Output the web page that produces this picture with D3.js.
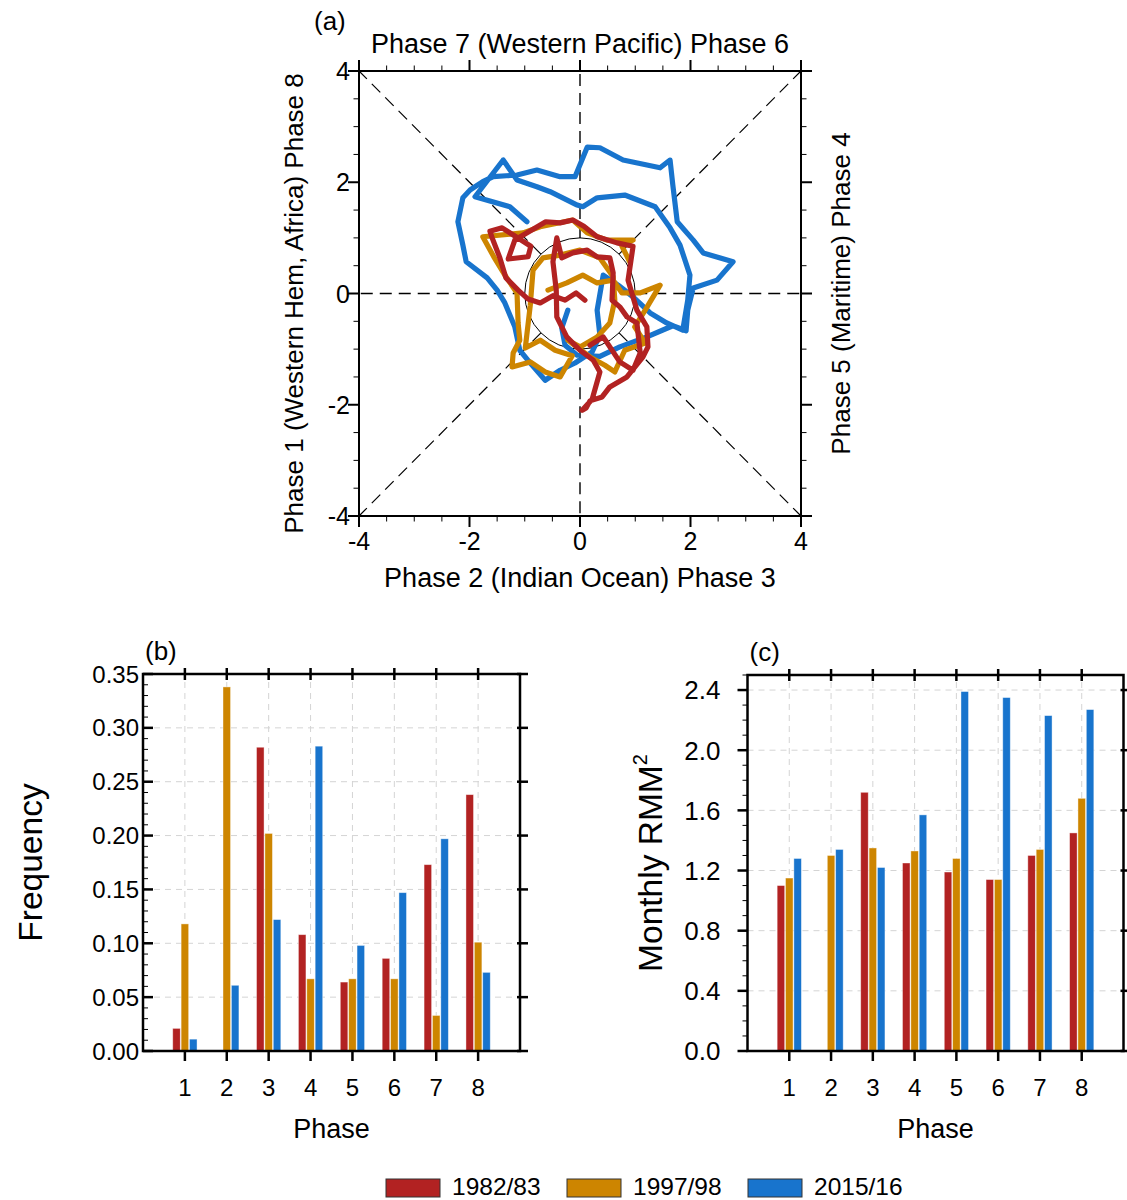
<!DOCTYPE html>
<html><head><meta charset="utf-8">
<script src="https://cdn.jsdelivr.net/npm/d3@7/dist/d3.min.js"></script>
<style>
body{margin:0;background:#fff}
text{font-family:"Liberation Sans",Arial,Helvetica,sans-serif;fill:#000}
</style>
</head><body>
<svg id="chart" width="1127" height="1200"></svg>
<script>
// ---------------- DATA ----------------
const years = ["1982/83", "1997/98", "2015/16"];
const colors = ["#B22222", "#CD8500", "#1874CD"];
const phases = [1, 2, 3, 4, 5, 6, 7, 8];

// (b) frequency of each phase
const freq1982 = [0.021, 0.000, 0.282, 0.108, 0.064, 0.086, 0.173, 0.238];
const freq1997 = [0.118, 0.338, 0.202, 0.067, 0.067, 0.067, 0.033, 0.101];
const freq2015 = [0.011, 0.061, 0.122, 0.283, 0.098, 0.147, 0.197, 0.073];
const freqTicks = [0.00, 0.05, 0.10, 0.15, 0.20, 0.25, 0.30, 0.35];

// (c) monthly RMM^2 per phase
const rmm1982 = [1.10, 0.00, 1.72, 1.25, 1.19, 1.14, 1.30, 1.45];
const rmm1997 = [1.15, 1.30, 1.35, 1.33, 1.28, 1.14, 1.34, 1.68];
const rmm2015 = [1.28, 1.34, 1.22, 1.57, 2.39, 2.35, 2.23, 2.27];
const rmmTicks = [0.0, 0.4, 0.8, 1.2, 1.6, 2.0, 2.4];

// (a) RMM1/RMM2 trajectories
const phaseTicks = [-4, -2, 0, 2, 4];
const traj1982 = [[0.09,-0.12],[-0.07,0.01],[-0.27,-0.12],[-0.49,-0.04],[-0.72,-0.17],[-0.94,-0.10],[-1.12,0.06],[-1.34,0.28],[-1.45,0.64],[-1.59,1.00],[-1.63,1.12],[-1.41,1.18],[-0.89,0.85],[-0.94,0.66],[-1.30,0.62],[-1.18,0.96],[-0.62,1.29],[-0.36,1.27],[-0.13,1.32],[0.07,1.21],[0.31,1.02],[0.67,0.91],[0.96,0.85],[0.87,0.24],[1.03,-0.30],[1.21,-0.60],[1.23,-0.96],[1.14,-1.14],[0.85,-1.50],[0.54,-1.68],[0.40,-1.86],[0.18,-1.93],[0.11,-2.06],[0.04,-2.10],[0.22,-1.90],[0.36,-1.41],[0.24,-1.20],[0.00,-1.02],[-0.24,-0.78],[-0.42,-0.42],[-0.43,0.06],[-0.49,0.57],[-0.42,1.00],[-0.33,0.64],[-0.13,0.73],[0.13,0.78],[0.31,0.66],[0.54,0.64],[0.60,0.37],[0.58,-0.12],[0.72,-0.24],[0.85,-0.42],[1.03,-0.53],[1.09,-1.07],[0.96,-1.38],[0.72,-1.23],[0.42,-0.78],[0.18,-0.93]];
const traj1997 = [[0.90,0.57],[0.76,0.85],[0.96,0.96],[0.49,0.96],[0.13,1.09],[-0.13,1.32],[-0.72,1.20],[-1.03,1.09],[-1.76,1.02],[-1.56,0.66],[-1.34,0.30],[-1.14,0.01],[-1.12,-0.53],[-1.09,-0.84],[-1.21,-1.07],[-1.23,-1.32],[-0.90,-1.23],[-0.63,-1.41],[-0.36,-1.50],[-0.14,-1.12],[-0.45,-1.02],[-0.72,-0.84],[-0.99,-0.98],[-0.90,-0.21],[-0.85,0.42],[-0.67,0.64],[-0.36,0.69],[0.00,0.78],[0.36,0.64],[0.60,0.30],[0.63,-0.12],[0.54,-0.53],[0.31,-0.78],[0.00,-0.96],[-0.22,-0.84],[0.18,-1.14],[0.45,-1.29],[0.63,-1.41],[0.81,-1.02],[1.18,-0.89],[0.99,-0.60],[1.18,-0.30],[1.45,0.15],[1.09,0.01],[0.76,0.01],[0.60,0.24],[0.31,0.19],[0.05,0.33],[-0.24,0.19],[-0.58,0.06]];
const traj2015 = [[-0.22,-0.30],[-0.33,-0.62],[-0.27,-0.93],[-0.05,-1.11],[0.36,-1.13],[0.72,-0.96],[1.21,-0.78],[1.68,-0.58],[1.92,-0.67],[1.95,-0.30],[2.05,0.10],[2.48,0.24],[2.77,0.57],[2.23,0.73],[2.05,0.96],[1.76,1.29],[1.68,1.95],[1.63,2.40],[1.45,2.26],[0.78,2.40],[0.36,2.62],[0.13,2.63],[-0.09,2.10],[-0.36,2.10],[-0.78,2.22],[-1.14,2.13],[-1.57,2.10],[-1.76,2.01],[-1.99,1.86],[-2.12,1.72],[-2.21,1.29],[-2.12,0.87],[-2.06,0.57],[-1.68,0.28],[-1.50,0.06],[-1.36,-0.17],[-1.18,-0.60],[-1.09,-1.02],[-0.90,-1.25],[-0.63,-1.56],[-0.36,-1.38],[-0.09,-1.25],[0.22,-1.05],[0.36,-0.75],[0.31,-0.30],[0.42,0.33],[0.69,0.15],[0.96,-0.06],[1.27,-0.35],[1.57,-0.53],[1.86,-0.66],[1.95,-0.12],[1.99,0.33],[1.81,0.87],[1.63,1.18],[1.36,1.56],[0.81,1.77],[0.31,1.72],[0.05,1.56],[-0.05,1.59],[-0.54,1.83],[-0.78,1.92],[-1.14,2.04],[-1.39,2.40],[-1.90,1.74],[-1.27,1.56],[-0.96,1.29]];

// ---------------- DRAW ----------------
const svg = d3.select("#chart");

// ===== Panel (a) =====
const ax = d3.scaleLinear().domain([-4, 4]).range([359, 801]);
const ay = d3.scaleLinear().domain([-4, 4]).range([516, 71]);
const ga = svg.append("g");

// dashed phase lines (outside unit circle)
const dirs = [[1,0],[-1,0],[0,1],[0,-1],[1,1],[1,-1],[-1,1],[-1,-1]];
dirs.forEach(([dx, dy]) => {
  const n = Math.hypot(dx, dy);
  const straight = dx === 0 || dy === 0;
  ga.append("line")
    .attr("x1", ax(dx / n)).attr("y1", ay(dy / n))
    .attr("x2", ax(4 * dx)).attr("y2", ay(4 * dy))
    .attr("stroke", "#000").attr("stroke-width", straight ? 1.4 : 1.2)
    .attr("stroke-dasharray", "12,7");
});
// unit circle
ga.append("ellipse")
  .attr("cx", ax(0)).attr("cy", ay(0))
  .attr("rx", ax(1) - ax(0)).attr("ry", ay(0) - ay(1))
  .attr("fill", "none").attr("stroke", "#000").attr("stroke-width", 1);

// trajectories
const line = d3.line().x(d => ax(d[0])).y(d => ay(d[1]));
[[traj2015, 2], [traj1997, 1], [traj1982, 0]].forEach(([t, i]) => {
  ga.append("path").attr("d", line(t))
    .attr("fill", "none").attr("stroke", colors[i])
    .attr("stroke-width", 5.2).attr("stroke-linejoin", "round").attr("stroke-linecap", "round");
});

// frame
ga.append("rect").attr("x", ax(-4)).attr("y", ay(4))
  .attr("width", ax(4) - ax(-4)).attr("height", ay(-4) - ay(4))
  .attr("fill", "none").attr("stroke", "#000").attr("stroke-width", 2);

// ticks (outward)
const minorA = d3.range(-4, 4.01, 0.5);
minorA.forEach(v => {
  const major = Math.abs(v % 2) < 1e-9;
  const L = major ? 11 : 5.5;
  const w = major ? 2 : 1;
  ga.append("line").attr("x1", ax(v)).attr("x2", ax(v)).attr("y1", ay(-4)).attr("y2", ay(-4) + L).attr("stroke", "#000").attr("stroke-width", w);
  ga.append("line").attr("x1", ax(v)).attr("x2", ax(v)).attr("y1", ay(4)).attr("y2", ay(4) - L).attr("stroke", "#000").attr("stroke-width", w);
  ga.append("line").attr("y1", ay(v)).attr("y2", ay(v)).attr("x1", ax(-4)).attr("x2", ax(-4) - L).attr("stroke", "#000").attr("stroke-width", w);
  ga.append("line").attr("y1", ay(v)).attr("y2", ay(v)).attr("x1", ax(4)).attr("x2", ax(4) + L).attr("stroke", "#000").attr("stroke-width", w);
});
phaseTicks.forEach(v => {
  ga.append("text").attr("x", ax(v)).attr("y", ay(-4) + 34).attr("text-anchor", "middle")
    .attr("font-size", 25).text(v);
  ga.append("text").attr("x", ax(-4) - 9).attr("y", ay(v) + 9).attr("text-anchor", "end")
    .attr("font-size", 25).text(v);
});
ga.append("text").attr("x", ax(0)).attr("y", 53).attr("text-anchor", "middle").attr("font-size", 27)
  .text("Phase 7 (Western Pacific) Phase 6");
ga.append("text").attr("x", ax(0)).attr("y", 587).attr("text-anchor", "middle").attr("font-size", 27)
  .text("Phase 2 (Indian Ocean) Phase 3");
ga.append("text").attr("transform", `translate(303,${(ay(4)+ay(-4))/2 + 10}) rotate(-90)`).attr("text-anchor", "middle").attr("font-size", 26)
  .text("Phase 1 (Western Hem, Africa) Phase 8");
ga.append("text").attr("transform", `translate(850,${(ay(4)+ay(-4))/2}) rotate(-90)`).attr("text-anchor", "middle").attr("font-size", 26)
  .text("Phase 5 (Maritime) Phase 4");
ga.append("text").attr("x", 314).attr("y", 30).attr("font-size", 26).text("(a)");

// ===== Bar panels =====
function barPanel(opts) {
  const g = svg.append("g");
  const x = d3.scaleLinear().domain([0, 9]).range([opts.left, opts.right]);
  const y = d3.scaleLinear().domain([0, opts.ymax]).range([opts.bottom, opts.top]);
  // grid
  opts.ticks.forEach(v => {
    if (v <= 0) return;
    g.append("line").attr("x1", x(0)).attr("x2", x(9)).attr("y1", y(v)).attr("y2", y(v))
      .attr("stroke", "#d4d4d4").attr("stroke-width", 1).attr("stroke-dasharray", "6,5");
  });
  phases.forEach(p => {
    g.append("line").attr("x1", x(p)).attr("x2", x(p)).attr("y1", y(0)).attr("y2", y(opts.ymax))
      .attr("stroke", "#d4d4d4").attr("stroke-width", 1).attr("stroke-dasharray", "6,5");
  });
  // bars
  const bw = x(0.18) - x(0);
  opts.series.forEach((s, i) => {
    g.selectAll(null).data(s).enter().append("rect")
      .attr("x", (d, k) => x(phases[k] + (i - 1) * 0.2) - bw / 2)
      .attr("y", d => y(d))
      .attr("width", bw)
      .attr("height", d => y(0) - y(d))
      .attr("fill", colors[i])
      .attr("stroke", "#fff").attr("stroke-opacity", 0.5).attr("stroke-width", 0.8);
  });
  // frame
  g.append("rect").attr("x", x(0)).attr("y", y(opts.ymax)).attr("width", x(9) - x(0)).attr("height", y(0) - y(opts.ymax))
    .attr("fill", "none").attr("stroke", "#000").attr("stroke-width", 2.5);
  // x ticks
  phases.forEach(p => {
    g.append("line").attr("x1", x(p)).attr("x2", x(p)).attr("y1", y(0)).attr("y2", y(0) + 10).attr("stroke", "#000").attr("stroke-width", 2.5);
    g.append("line").attr("x1", x(p)).attr("x2", x(p)).attr("y1", y(opts.ymax) - 6).attr("y2", y(opts.ymax) + 6).attr("stroke", "#000").attr("stroke-width", 2.5);
    g.append("text").attr("x", x(p)).attr("y", y(0) + 45).attr("text-anchor", "middle").attr("font-size", 24).text(p);
  });
  // y ticks
  const dir = opts.inward ? 1 : -1;
  opts.minor.forEach(v => {
    g.append("line").attr("x1", x(0)).attr("x2", x(0) + dir * 5).attr("y1", y(v)).attr("y2", y(v)).attr("stroke", "#000").attr("stroke-width", 1);
  });
  opts.ticks.forEach(v => {
    g.append("line").attr("x1", x(0)).attr("x2", x(0) + dir * 10).attr("y1", y(v)).attr("y2", y(v)).attr("stroke", "#000").attr("stroke-width", 2.5);
    g.append("line").attr("x1", x(9) - 3).attr("x2", x(9) + 8).attr("y1", y(v)).attr("y2", y(v)).attr("stroke", "#000").attr("stroke-width", 2.5);
    g.append("text").attr("x", x(0) - opts.labelGap).attr("y", y(v) + opts.tickFont * 0.36).attr("text-anchor", "end")
      .attr("font-size", opts.tickFont).text(opts.fmt(v));
  });
  g.append("text").attr("x", (x(0) + x(9)) / 2).attr("y", y(0) + 87).attr("text-anchor", "middle").attr("font-size", 27).text("Phase");
  const t = g.append("text").attr("transform", `translate(${opts.titleX},${(y(0) + y(opts.ymax)) / 2}) rotate(-90)`)
    .attr("text-anchor", "middle").attr("font-size", 33.5);
  t.append("tspan").text(opts.title);
  if (opts.sup) t.append("tspan").attr("font-size", 20).attr("dy", -15).text(opts.sup);
  g.append("text").attr("x", opts.left + 2).attr("y", opts.top - 14).attr("font-size", 26).text(opts.label);
}

barPanel({
  left: 143, right: 520, top: 674, bottom: 1051, ymax: 0.35,
  ticks: freqTicks, minor: d3.range(0, 0.351, 0.01), inward: true, labelGap: 4,
  fmt: d3.format(".2f"), series: [freq1982, freq1997, freq2015],
  title: "Frequency", titleX: 42, label: "(b)", tickFont: 24
});
barPanel({
  left: 747.5, right: 1123.5, top: 675, bottom: 1051, ymax: 2.5,
  ticks: rmmTicks, minor: d3.range(0, 2.501, 0.1), inward: false, labelGap: 27,
  fmt: d3.format(".1f"), series: [rmm1982, rmm1997, rmm2015],
  title: "Monthly RMM", sup: "2", titleX: 662, label: "(c)", tickFont: 26
});

// ===== Legend =====
const lg = svg.append("g");
const lx = [386, 567, 748];
years.forEach((yname, i) => {
  lg.append("rect").attr("x", lx[i]).attr("y", 1179).attr("width", 54).attr("height", 18)
    .attr("fill", colors[i]).attr("stroke", "#333").attr("stroke-width", 1);
  lg.append("text").attr("x", lx[i] + 66).attr("y", 1195).attr("font-size", 24.5).text(yname);
});
</script>
</body></html>
